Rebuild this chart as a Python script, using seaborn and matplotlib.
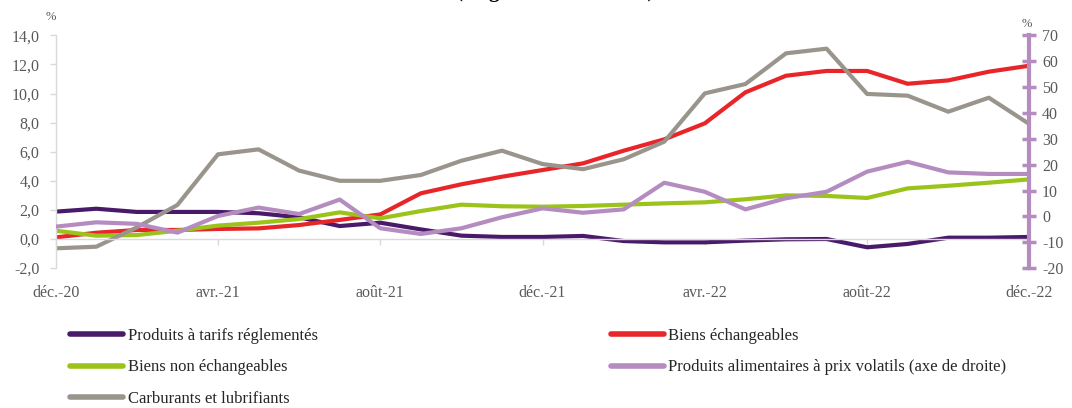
import matplotlib
matplotlib.use("Agg")
import matplotlib.pyplot as plt
from matplotlib.lines import Line2D
from matplotlib.ticker import FuncFormatter, FixedLocator
import numpy as np
import pandas as pd
import seaborn as sns

# Monthly year-on-year inflation by product group, Dec 2020 - Dec 2022
mois = list(range(25))
tick_pos = [0, 4, 8, 12, 16, 20, 24]
tick_labels = ["déc.-20", "avr.-21", "août-21", "déc.-21", "avr.-22", "août-22", "déc.-22"]

tarifs_regl = [1.88, 2.08, 1.86, 1.86, 1.86, 1.77, 1.49, 0.89, 1.12, 0.66, 0.23, 0.14, 0.14,
               0.21, -0.14, -0.23, -0.23, -0.11, -0.02, 0.0, -0.57, -0.34, 0.09, 0.09, 0.14]
biens_ech = [0.11, 0.43, 0.62, 0.62, 0.69, 0.73, 0.96, 1.31, 1.69, 3.14, 3.76, 4.28, 4.74,
             5.2, 6.07, 6.85, 7.95, 10.08, 11.22, 11.55, 11.55, 10.67, 10.9, 11.5, 11.91]
biens_non_ech = [0.57, 0.23, 0.27, 0.57, 0.92, 1.12, 1.37, 1.83, 1.42, 1.92, 2.36, 2.25, 2.22,
                 2.27, 2.36, 2.45, 2.52, 2.73, 3.0, 2.96, 2.82, 3.48, 3.66, 3.87, 4.1]
carburants = [-0.64, -0.53, 0.8, 2.34, 5.82, 6.16, 4.7, 4.0, 4.0, 4.4, 5.38, 6.07, 5.15,
              4.8, 5.48, 6.69, 10.01, 10.65, 12.76, 13.08, 9.97, 9.85, 8.75, 9.71, 7.9]
alim_volatils = [-3.98, -2.3, -2.9, -6.3, 0.15, 3.4, 0.9, 6.5, -4.6, -6.8, -4.6, -0.35, 3.1,
                 1.4, 2.7, 13.0, 9.5, 2.7, 7.0, 9.5, 17.3, 21.1, 17.0, 16.4, 16.4]

noms = {
    "regl": "Produits à tarifs réglementés",
    "ech": "Biens échangeables",
    "nonech": "Biens non échangeables",
    "alim": "Produits alimentaires à prix volatils (axe de droite)",
    "carb": "Carburants et lubrifiants",
}
couleurs = {
    "regl": "#4a1a6a",
    "ech": "#e8262a",
    "nonech": "#9bc31a",
    "alim": "#b48cc0",
    "carb": "#9a958c",
}

df = pd.DataFrame({
    "mois": mois,
    "regl": tarifs_regl,
    "ech": biens_ech,
    "nonech": biens_non_ech,
    "carb": carburants,
    "alim": alim_volatils,
})

sns.set_theme(style="white")
plt.rcParams["font.family"] = ["Liberation Serif", "DejaVu Serif"]

GRIS_AXE = "#d9d9d9"
GRIS_TXT = "#595959"
LW = 3.0

fig = plt.figure(figsize=(10.72, 4.08), dpi=100)
ax = fig.add_axes([55.7 / 1072, 1 - 268.1 / 408, (1029.4 - 55.7) / 1072, (268.1 - 35.3) / 408])
ax2 = ax.twinx()

for key in ["regl", "ech", "nonech", "carb"]:
    sns.lineplot(data=df, x="mois", y=key, ax=ax, color=couleurs[key], lw=LW, legend=False)
sns.lineplot(data=df, x="mois", y="alim", ax=ax2, color=couleurs["alim"], lw=LW, legend=False)

ax.set_xlim(0, 24)
ax.set_ylim(-2, 14)
ax2.set_ylim(-20, 70)
ax.set_xlabel("")
ax.set_ylabel("")
ax2.set_ylabel("")

# left axis
ax.yaxis.set_major_locator(FixedLocator(np.arange(-2, 15, 2)))
ax.yaxis.set_major_formatter(FuncFormatter(lambda v, _: f"{v:.1f}".replace(".", ",")))
ax.tick_params(axis="y", direction="out", length=4.6, width=1, color=GRIS_AXE,
               labelcolor=GRIS_TXT, labelsize=11.5, pad=7, left=True)
for s in ["top", "right"]:
    ax.spines[s].set_visible(False)
ax.spines["left"].set_color(GRIS_AXE)
ax.spines["left"].set_linewidth(1)

# horizontal axis crossing at zero, labels kept at the bottom
ax.spines["bottom"].set_position(("data", 0))
ax.spines["bottom"].set_color(GRIS_AXE)
ax.spines["bottom"].set_linewidth(1)
ax.set_xticks(tick_pos)
ax.tick_params(axis="x", direction="out", length=4.6, width=1, color=GRIS_AXE,
               labelbottom=False, bottom=True)

sec = ax.secondary_xaxis("bottom")
sec.set_xticks(tick_pos, tick_labels)
sec.spines["bottom"].set_visible(False)
sec.tick_params(axis="x", length=0, pad=12.5, labelsize=11.5, labelcolor=GRIS_TXT)

# right axis
ax2.yaxis.set_major_locator(FixedLocator(np.arange(-20, 71, 10)))
ax2.yaxis.set_major_formatter(FuncFormatter(lambda v, _: f"{v:.0f}"))
ax2.tick_params(axis="y", direction="inout", length=10, width=2.5, color=couleurs["alim"],
                labelcolor=GRIS_TXT, labelsize=11.5, pad=4, right=True)
for s in ["top", "left", "bottom"]:
    ax2.spines[s].set_visible(False)
ax2.spines["right"].set_color(couleurs["alim"])
ax2.spines["right"].set_linewidth(3)

ax.grid(False)
ax2.grid(False)

fig.text(51 / 1072, 1 - 17 / 408, "%", ha="center", va="center", fontsize=9, color=GRIS_TXT)
fig.text(1027 / 1072, 1 - 24 / 408, "%", ha="center", va="center", fontsize=9, color=GRIS_TXT)

# chart subtitle, sitting against the top edge
fig.text(555 / 1072, 1 + 3 / 408, "(en glissement annuel)", ha="center", va="baseline",
         fontsize=15, fontweight="bold", color="black")

ordre = ["regl", "nonech", "carb", "ech", "alim"]
handles = [Line2D([0], [0], color=couleurs[k], lw=4) for k in ordre]
labels = [noms[k] for k in ordre]
fig.legend(handles, labels, ncol=2, loc="upper left",
           bbox_to_anchor=(70 / 1072, 1 - 328 / 408), frameon=False,
           borderaxespad=0, borderpad=0, handlelength=3.2, handletextpad=0.25,
           columnspacing=17.6, labelspacing=0.92, fontsize=12, labelcolor="#262626")

fig.savefig("out.png", dpi=100)
